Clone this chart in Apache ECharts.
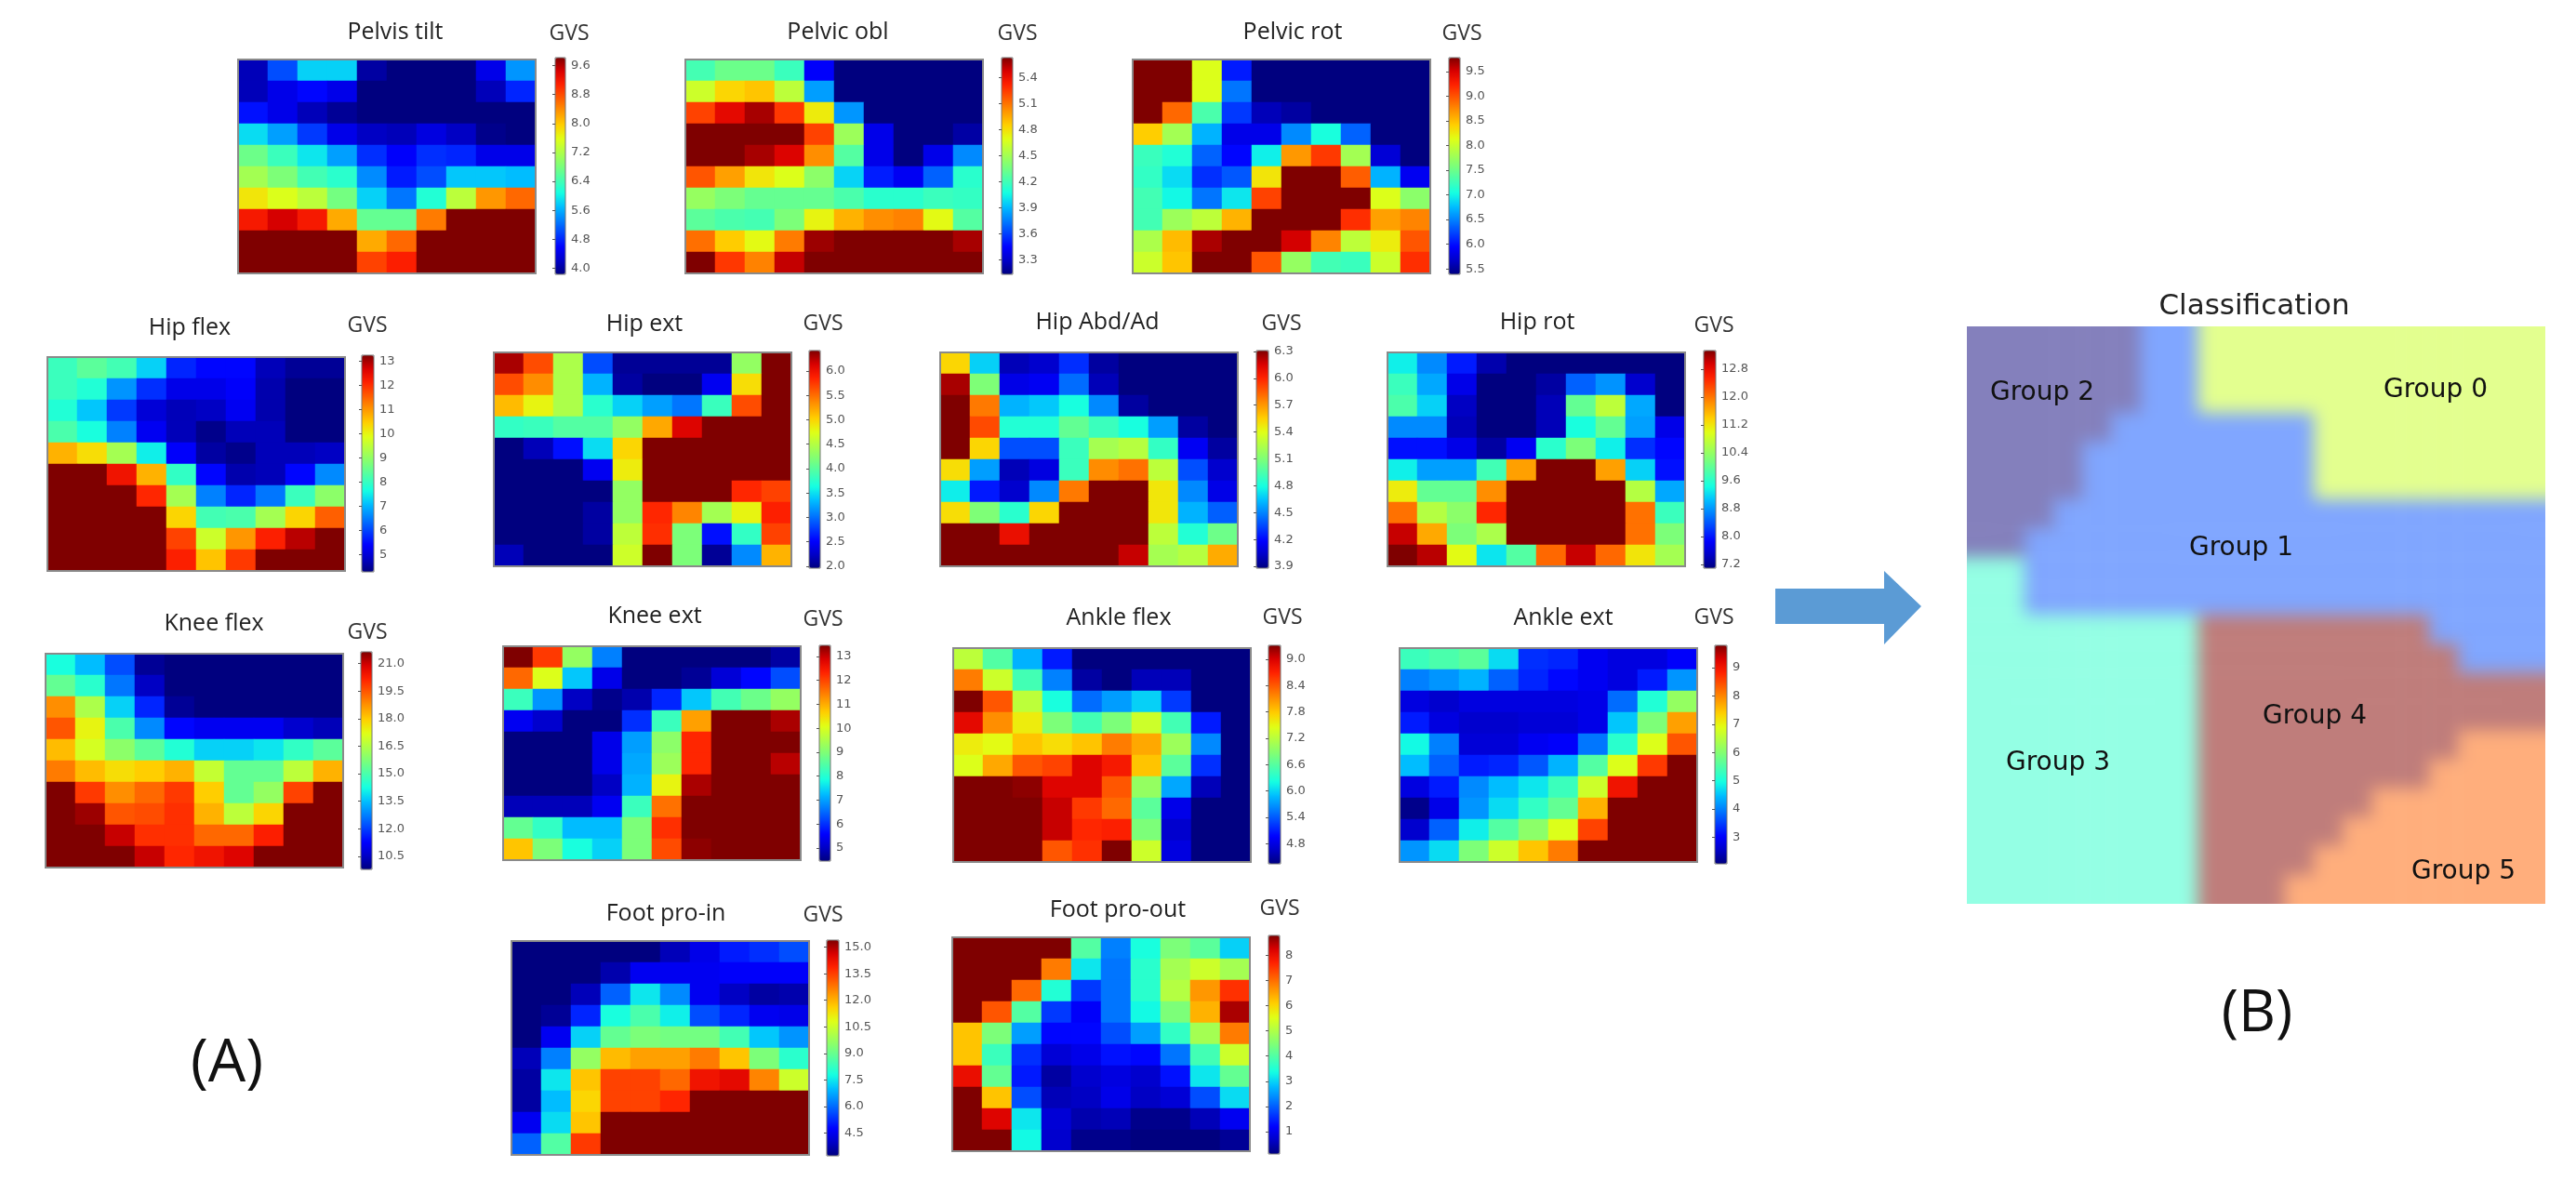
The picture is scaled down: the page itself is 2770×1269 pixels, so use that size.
<!DOCTYPE html>
<html>
<head>
<meta charset="utf-8">
<title>Gait variable scores and classification</title>
<script src="https://cdn.jsdelivr.net/npm/echarts@6/dist/echarts.min.js"></script>
<style>
html,body{margin:0;padding:0;background:#fff;width:2770px;height:1269px;overflow:hidden}
#classClip{position:absolute;left:2115px;top:351px;width:622px;height:621px;overflow:hidden}
#classMap{position:absolute;left:-62px;top:-62px;width:746px;height:745px;filter:blur(9px)}
#main{position:absolute;left:0;top:0;width:2770px;height:1269px}
</style>
</head>
<body>
<div id="classClip"><div id="classMap"></div></div>
<div id="main"></div>
<script>
// GVS values, top row first
var pelvisTilt = [
[4.13,5.03,5.81,5.81,4.01,3.83,3.83,3.83,4.43,5.45],
[4.13,4.43,4.61,4.43,3.83,3.83,3.83,3.83,4.13,4.79],
[4.67,4.43,4.13,3.95,3.83,3.83,3.83,3.83,3.83,3.83],
[5.87,5.51,4.91,4.43,4.19,4.13,4.37,4.19,3.89,3.83],
[6.71,6.35,5.93,5.51,4.85,4.55,4.85,4.79,4.43,4.43],
[7.12,6.83,6.41,6.23,5.39,4.73,5.03,5.75,5.75,5.69],
[7.78,7.54,7.30,6.77,5.81,5.27,6.17,7.30,8.32,8.62],
[9.16,9.46,9.16,8.20,6.65,6.65,8.50,9.82,9.82,9.82],
[9.82,9.82,9.82,9.82,8.20,8.62,9.82,9.82,9.82,9.82],
[9.82,9.82,9.82,9.82,8.86,9.10,9.82,9.82,9.82,9.82]];
var pelvicObl = [
[4.21,4.33,4.33,4.18,3.43,3.13,3.13,3.13,3.13,3.13],
[4.63,4.83,4.88,4.58,3.83,3.13,3.13,3.13,3.13,3.13],
[5.23,5.43,5.56,5.26,4.76,3.81,3.13,3.13,3.13,3.13],
[5.63,5.63,5.63,5.63,5.23,4.48,3.38,3.13,3.13,3.21],
[5.63,5.63,5.56,5.46,5.03,4.26,3.38,3.13,3.38,3.78],
[5.18,4.98,4.78,4.68,4.43,3.96,3.51,3.41,3.68,4.13],
[4.46,4.38,4.31,4.31,4.31,4.23,4.13,4.13,4.18,4.16],
[4.28,4.23,4.21,4.38,4.73,4.93,5.03,5.06,4.71,4.26],
[5.11,4.86,4.71,5.08,5.58,5.63,5.63,5.63,5.63,5.56],
[5.63,5.26,5.06,5.51,5.63,5.63,5.63,5.63,5.63,5.63]];
var pelvicRot = [
[9.78,9.78,8.11,6.05,5.39,5.39,5.39,5.39,5.39,5.39],
[9.78,9.78,8.11,6.44,5.39,5.39,5.39,5.39,5.39,5.39],
[9.78,8.90,7.32,6.18,5.61,5.52,5.39,5.39,5.39,5.39],
[8.42,7.80,6.71,5.83,5.83,6.53,7.06,6.36,5.39,5.39],
[7.23,7.10,6.36,5.96,6.97,8.68,9.12,7.80,5.74,5.39],
[7.19,6.88,6.14,6.31,8.29,9.78,9.78,8.95,6.71,5.87],
[7.28,7.01,6.44,6.93,9.08,9.78,9.78,9.78,8.11,7.67],
[7.28,7.76,7.94,8.55,9.78,9.78,9.78,9.17,8.64,8.77],
[7.85,8.51,9.65,9.78,9.78,9.52,8.77,7.94,8.24,8.99],
[8.02,8.46,9.78,9.78,8.99,7.72,7.28,7.23,8.02,9.17]];
var hipFlex = [
[8.05,8.41,8.14,7.24,5.72,5.45,5.45,4.73,4.46,4.46],
[8.05,7.78,6.70,5.81,5.18,5.18,5.36,4.64,4.28,4.28],
[7.78,7.15,5.90,5.00,4.73,4.82,5.27,4.64,4.28,4.28],
[8.23,7.69,6.53,5.27,4.73,4.37,4.73,4.73,4.28,4.28],
[10.75,10.30,9.22,7.51,5.36,4.55,4.37,4.73,4.73,4.82],
[13.26,13.26,12.36,10.75,7.96,5.45,4.64,4.73,5.45,6.61],
[13.26,13.26,13.26,12.09,9.22,6.53,5.72,6.44,8.05,8.95],
[13.26,13.26,13.26,13.26,10.39,8.14,8.23,9.22,10.39,11.55],
[13.26,13.26,13.26,13.26,11.82,9.67,11.02,12.18,12.90,13.26],
[13.26,13.26,13.26,13.26,12.18,10.57,11.91,13.26,13.26,13.26]];
var kneeFlex = [
[14.29,13.46,12.15,10.02,9.78,9.78,9.78,9.78,9.78,9.78],
[15.35,14.52,12.63,10.49,9.78,9.78,9.78,9.78,9.78,9.78],
[18.79,16.42,13.69,11.68,10.02,9.78,9.78,9.78,9.78,9.78],
[19.51,17.37,15.00,12.86,11.32,11.08,11.08,11.08,10.61,10.37],
[18.20,17.01,15.95,15.24,14.41,13.69,13.69,13.93,14.64,15.24],
[19.03,18.20,17.73,17.96,18.32,16.78,15.35,15.35,16.66,18.32],
[21.64,19.86,18.79,19.27,19.86,17.96,15.35,16.07,19.74,21.64],
[21.64,21.40,19.51,19.62,19.98,18.32,16.66,17.85,21.64,21.64],
[21.64,21.64,21.05,19.98,19.98,19.27,19.27,20.22,21.64,21.64],
[21.64,21.64,21.64,21.05,20.10,20.45,20.81,21.64,21.64,21.64]];
var hipExt = [
[6.29,5.66,4.46,2.85,2.05,2.05,2.05,2.05,4.32,6.42],
[5.66,5.35,4.46,3.30,2.09,1.96,1.96,2.45,4.95,6.42],
[5.13,4.81,4.46,3.74,3.43,3.21,3.03,3.83,5.66,6.42],
[3.79,3.83,3.97,3.97,4.32,5.22,6.11,6.42,6.42,6.42],
[1.96,2.18,2.58,3.48,4.99,6.42,6.42,6.42,6.42,6.42],
[1.96,1.96,1.96,2.45,4.86,6.42,6.42,6.42,6.42,6.42],
[1.96,1.96,1.96,1.96,4.32,6.42,6.42,6.42,5.84,5.71],
[1.96,1.96,1.96,2.09,4.32,5.84,5.39,4.41,4.81,5.88],
[1.96,1.96,1.96,2.09,4.55,5.80,4.19,2.58,3.79,5.71],
[2.18,1.96,1.96,1.96,4.64,6.42,4.19,2.05,3.12,5.17]];
var kneeExt = [
[13.46,12.11,9.23,6.71,4.46,4.46,4.46,4.46,4.46,4.73],
[11.66,10.04,7.34,5.36,4.46,4.46,4.64,5.18,5.63,6.26],
[8.24,6.89,5.00,4.55,4.82,5.90,7.34,8.33,8.78,9.23],
[5.45,5.09,4.46,4.46,5.99,8.24,11.12,13.46,13.46,13.19],
[4.46,4.46,4.46,5.36,6.98,9.14,12.29,13.46,13.46,13.46],
[4.46,4.46,4.46,5.36,7.07,9.32,12.29,13.46,13.46,13.10],
[4.46,4.46,4.46,5.00,7.16,10.22,13.19,13.46,13.46,13.46],
[4.91,4.91,4.91,5.45,8.24,11.57,13.46,13.46,13.46,13.46],
[8.69,8.15,7.25,7.25,8.96,12.20,13.46,13.46,13.46,13.46],
[10.76,8.96,7.88,7.43,8.96,11.93,13.37,13.46,13.46,13.46]];
var hipAbdAd = [
[5.53,4.68,4.00,4.05,4.29,3.95,3.88,3.88,3.88,3.88],
[6.24,5.10,4.12,4.15,4.44,4.00,3.88,3.88,3.88,3.88],
[6.31,5.78,4.61,4.66,4.80,4.51,3.95,3.88,3.88,3.88],
[6.31,5.90,4.83,4.83,5.02,4.90,4.80,4.56,3.95,3.88],
[6.31,5.53,4.37,4.37,4.90,5.22,5.27,4.88,4.15,3.95],
[5.51,4.56,4.00,4.10,4.90,5.73,5.80,5.29,4.37,4.05],
[4.75,4.24,4.05,4.51,5.78,6.31,6.31,5.48,4.51,4.12],
[5.51,5.10,4.85,5.53,6.31,6.31,6.31,5.48,4.61,4.41],
[6.31,6.31,6.09,6.31,6.31,6.31,6.31,5.29,4.83,5.05],
[6.31,6.31,6.31,6.31,6.31,6.31,6.19,5.22,5.27,5.65]];
var ankleFlex = [
[7.23,6.58,5.83,5.09,4.34,4.34,4.34,4.34,4.34,4.34],
[8.22,7.33,6.48,5.59,4.49,4.34,4.59,4.59,4.34,4.34],
[9.32,8.42,7.23,6.23,5.49,5.73,5.98,5.24,4.34,4.34],
[8.92,8.12,7.58,6.83,6.48,6.83,7.33,6.48,5.09,4.34],
[7.58,7.48,7.83,7.68,7.83,8.22,7.98,7.03,5.63,4.34],
[7.43,7.98,8.42,8.52,8.97,8.77,7.83,6.63,5.19,4.34],
[9.32,9.32,9.27,8.97,8.97,8.42,6.98,5.78,4.59,4.34],
[9.32,9.32,9.32,9.07,8.57,8.32,6.63,4.84,4.34,4.34],
[9.32,9.32,9.32,9.07,8.67,8.72,6.83,4.69,4.34,4.34],
[9.32,9.32,9.32,8.42,8.62,9.32,7.33,4.79,4.34,4.34]];
var hipRot = [
[9.34,8.71,8.03,7.34,7.09,7.09,7.09,7.09,7.09,7.09],
[9.71,8.90,7.71,7.09,7.09,7.28,8.46,8.77,7.53,7.09],
[9.84,9.15,7.46,7.09,7.09,7.40,10.02,10.71,8.90,7.09],
[8.71,8.71,7.40,7.09,7.09,7.40,9.46,10.02,8.84,7.71],
[7.96,7.96,7.71,7.28,7.78,9.59,10.21,9.34,8.15,7.90],
[9.34,8.84,8.84,9.77,11.71,13.33,13.33,11.71,9.15,7.96],
[11.15,10.02,10.02,11.83,13.33,13.33,13.33,13.33,10.65,8.90],
[12.02,10.65,10.33,12.52,13.33,13.33,13.33,13.33,12.02,9.71],
[13.02,11.65,10.21,10.58,13.33,13.33,13.33,13.33,12.02,10.21],
[13.33,13.08,11.02,9.27,9.90,12.08,13.02,12.08,11.21,10.52]];
var ankleExt = [
[5.31,5.46,5.62,4.69,3.37,3.30,2.91,2.76,2.76,2.99],
[3.99,4.15,4.38,3.76,3.30,3.07,2.91,2.76,3.22,4.15],
[2.76,2.60,2.76,2.76,2.76,2.76,2.83,3.84,5.07,6.16],
[3.22,2.76,2.60,2.60,2.68,2.68,2.83,4.53,5.93,7.78],
[4.92,3.99,2.68,2.68,2.91,2.99,3.92,5.15,6.85,8.40],
[4.46,3.76,3.22,3.30,3.68,4.38,5.54,6.85,8.63,9.79],
[2.76,3.22,4.07,4.46,4.77,5.31,6.70,9.02,9.79,9.79],
[2.14,2.83,4.15,4.69,5.23,5.69,7.63,9.79,9.79,9.79],
[2.60,3.76,4.84,5.54,6.08,6.85,8.55,9.79,9.79,9.79],
[4.15,4.69,5.93,6.70,7.47,8.09,9.79,9.79,9.79,9.79]];
var footProIn = [
[3.21,3.21,3.21,3.21,3.21,3.82,4.43,5.04,5.28,5.65],
[3.21,3.21,3.21,3.70,4.55,4.55,4.55,4.67,4.67,4.67],
[3.21,3.21,3.82,5.89,7.48,6.38,4.55,3.94,3.58,3.70],
[3.21,3.45,5.16,7.84,8.57,7.60,5.65,5.16,4.55,4.43],
[3.21,4.55,7.23,8.94,9.31,9.18,9.18,8.45,7.11,6.50],
[3.82,6.26,9.67,11.87,12.23,12.23,12.72,11.74,9.31,8.09],
[3.58,7.48,11.74,13.45,13.45,12.96,14.18,14.42,12.60,10.52],
[3.58,6.99,11.50,13.45,13.45,13.82,15.40,15.40,15.40,15.40],
[4.55,7.35,11.74,15.40,15.40,15.40,15.40,15.40,15.40,15.40],
[5.89,8.69,13.57,15.40,15.40,15.40,15.40,15.40,15.40,15.40]];
var footProOut = [
[8.79,8.79,8.79,8.79,4.02,2.28,3.41,4.45,4.10,2.97],
[8.79,8.79,8.79,6.88,3.15,2.19,3.58,4.88,5.32,4.88],
[8.79,8.79,7.05,3.50,1.67,2.19,3.58,5.06,6.62,7.57],
[8.79,7.23,4.02,1.67,1.15,2.19,3.32,4.45,6.36,8.53],
[6.19,4.45,2.54,1.24,1.24,1.85,2.54,3.67,4.88,6.88],
[6.19,3.76,1.59,0.80,0.98,1.33,1.24,2.19,3.84,5.32],
[8.01,4.19,1.41,0.37,0.72,0.89,0.72,1.33,3.15,4.19],
[8.79,6.19,1.85,0.54,0.63,0.98,0.63,0.80,1.85,3.06],
[8.79,8.18,3.15,0.80,0.46,0.54,0.20,0.20,0.54,1.06],
[8.79,8.79,3.32,0.72,0.20,0.20,0.11,0.11,0.11,0.28]];

// colorbar tick labels
var pelvisTiltTicks = [4.0,4.8,5.6,6.4,7.2,8.0,8.8,9.6];
var pelvicOblTicks = [3.3,3.6,3.9,4.2,4.5,4.8,5.1,5.4];
var pelvicRotTicks = [5.5,6.0,6.5,7.0,7.5,8.0,8.5,9.0,9.5];
var hipFlexTicks = [5,6,7,8,9,10,11,12,13];
var kneeFlexTicks = [10.5,12.0,13.5,15.0,16.5,18.0,19.5,21.0];
var hipExtTicks = [2.0,2.5,3.0,3.5,4.0,4.5,5.0,5.5,6.0];
var kneeExtTicks = [5,6,7,8,9,10,11,12,13];
var hipAbdAdTicks = [3.9,4.2,4.5,4.8,5.1,5.4,5.7,6.0,6.3];
var ankleFlexTicks = [4.8,5.4,6.0,6.6,7.2,7.8,8.4,9.0];
var hipRotTicks = [7.2,8.0,8.8,9.6,10.4,11.2,12.0,12.8];
var ankleExtTicks = [3,4,5,6,7,8,9];
var footProInTicks = [4.5,6.0,7.5,9.0,10.5,12.0,13.5,15.0];
var footProOutTicks = [1,2,3,4,5,6,7,8];

// cluster number of the classification map, read on a 20x20 raster
var groupNames = ['Group 0','Group 1','Group 2','Group 3','Group 4','Group 5'];
var classification = [
[2,2,2,2,2,2,1,1,0,0,0,0,0,0,0,0,0,0,0,0],
[2,2,2,2,2,2,1,1,0,0,0,0,0,0,0,0,0,0,0,0],
[2,2,2,2,2,2,1,1,0,0,0,0,0,0,0,0,0,0,0,0],
[2,2,2,2,2,1,1,1,1,1,1,1,0,0,0,0,0,0,0,0],
[2,2,2,2,1,1,1,1,1,1,1,1,0,0,0,0,0,0,0,0],
[2,2,2,2,1,1,1,1,1,1,1,1,0,0,0,0,0,0,0,0],
[2,2,2,1,1,1,1,1,1,1,1,1,1,1,1,1,1,1,1,1],
[2,2,1,1,1,1,1,1,1,1,1,1,1,1,1,1,1,1,1,1],
[3,3,1,1,1,1,1,1,1,1,1,1,1,1,1,1,1,1,1,1],
[3,3,1,1,1,1,1,1,1,1,1,1,1,1,1,1,1,1,1,1],
[3,3,3,3,3,3,3,3,4,4,4,4,4,4,4,4,1,1,1,1],
[3,3,3,3,3,3,3,3,4,4,4,4,4,4,4,4,4,1,1,1],
[3,3,3,3,3,3,3,3,4,4,4,4,4,4,4,4,4,4,4,4],
[3,3,3,3,3,3,3,3,4,4,4,4,4,4,4,4,4,4,4,4],
[3,3,3,3,3,3,3,3,4,4,4,4,4,4,4,4,4,5,5,5],
[3,3,3,3,3,3,3,3,4,4,4,4,4,4,4,4,5,5,5,5],
[3,3,3,3,3,3,3,3,4,4,4,4,4,4,5,5,5,5,5,5],
[3,3,3,3,3,3,3,3,4,4,4,4,4,5,5,5,5,5,5,5],
[3,3,3,3,3,3,3,3,4,4,4,4,5,5,5,5,5,5,5,5],
[3,3,3,3,3,3,3,3,4,4,4,5,5,5,5,5,5,5,5,5]];

var jet = ['#00007f','#0000c7','#0000ff','#0040ff','#0080ff','#00bfff','#15ffe2','#48ffae','#7cff79',
           '#aeff48','#e0ff16','#ffd000','#ff9700','#ff5c00','#ff2100','#d90000','#7f0000'];
var groupColors = ['#e3ff8f','#80a6ff','#8480bc','#94ffe4','#bf7d7b','#ffae7c'];

// name, values, ticks, colour range, map box [x0,y0,x1,y1] (whole pixels per cell so
// no seams show), colorbar [x0,y0,x1,y1], title and GVS centres
var panels = [
 {name:'Pelvis tilt', v:pelvisTilt, t:pelvisTiltTicks, min:3.83, max:9.82, box:[256,64,576,294], bar:[597,62,608,295], title:[425,35], gvs:[612,36], dec:1},
 {name:'Pelvic obl', v:pelvicObl, t:pelvicOblTicks, min:3.13, max:5.63, box:[737,64,1057,294], bar:[1077,62,1089,295], title:[901,35], gvs:[1094,36], dec:1},
 {name:'Pelvic rot', v:pelvicRot, t:pelvicRotTicks, min:5.39, max:9.78, box:[1218,64,1538,294], bar:[1558,62,1570,295], title:[1390,35], gvs:[1572,36], dec:1},
 {name:'Hip flex', v:hipFlex, t:hipFlexTicks, min:4.28, max:13.26, box:[51,384,371,614], bar:[389,382,402,615], title:[204,353], gvs:[395,350], dec:0},
 {name:'Knee flex', v:kneeFlex, t:kneeFlexTicks, min:9.78, max:21.64, box:[49,703,369,933], bar:[388,701,400,935], title:[230,671], gvs:[395,680], dec:1},
 {name:'Hip ext', v:hipExt, t:hipExtTicks, min:1.96, max:6.42, box:[531,379,851,609], bar:[870,377,882,611], title:[693,349], gvs:[885,348], dec:1},
 {name:'Knee ext', v:kneeExt, t:kneeExtTicks, min:4.46, max:13.46, box:[541,695,861,925], bar:[881,694,893,926], title:[704,663], gvs:[885,666], dec:0},
 {name:'Hip Abd/Ad', v:hipAbdAd, t:hipAbdAdTicks, min:3.88, max:6.31, box:[1011,379,1331,609], bar:[1351,377,1364,611], title:[1180,347], gvs:[1378,348], dec:1},
 {name:'Ankle flex', v:ankleFlex, t:ankleFlexTicks, min:4.34, max:9.32, box:[1025,697,1345,927], bar:[1364,694,1377,929], title:[1203,665], gvs:[1379,664], dec:1},
 {name:'Hip rot', v:hipRot, t:hipRotTicks, min:7.09, max:13.33, box:[1492,379,1812,609], bar:[1832,377,1845,611], title:[1653,347], gvs:[1843,350], dec:1},
 {name:'Ankle ext', v:ankleExt, t:ankleExtTicks, min:2.06, max:9.79, box:[1505,697,1825,927], bar:[1844,694,1857,929], title:[1681,665], gvs:[1843,664], dec:0},
 {name:'Foot pro-in', v:footProIn, t:footProInTicks, min:3.21, max:15.40, box:[550,1012,870,1242], bar:[889,1011,902,1243], title:[716,983], gvs:[885,984], dec:1},
 {name:'Foot pro-out', v:footProOut, t:footProOutTicks, min:0.11, max:8.79, box:[1024,1008,1344,1238], bar:[1364,1006,1376,1241], title:[1202,979], gvs:[1376,977], dec:0}
];

var cells = ['0','1','2','3','4','5','6','7','8','9'];
var titleFont = '"Open Sans", sans-serif';
var chart = echarts.init(document.getElementById('main'));

var grids = [], xAxes = [], yAxes = [], series = [], visualMaps = [], titles = [];

panels.forEach(function(p, i){
    var data = [];
    p.v.forEach(function(row, r){
        row.forEach(function(val, c){ data.push([c, r, val]); });
    });
    grids.push({left:p.box[0], top:p.box[1], width:p.box[2]-p.box[0], height:p.box[3]-p.box[1],
        show:true, borderColor:'#8a8a8a', borderWidth:2, z:6});
    xAxes.push({type:'category', data:cells, gridIndex:i, show:false});
    yAxes.push({type:'category', data:cells, gridIndex:i, show:false, inverse:true});
    series.push({type:'heatmap', name:p.name, xAxisIndex:i, yAxisIndex:i, data:data, z:2, silent:true, progressive:0});
    visualMaps.push({type:'continuous', seriesIndex:i, dimension:2, min:p.min, max:p.max, padding:0,
        left:p.bar[0], top:p.bar[1], itemWidth:p.bar[2]-p.bar[0], itemHeight:p.bar[3]-p.bar[1],
        calculable:false, hoverLink:false, inRange:{color:jet}});
    titles.push({text:p.name, left:p.title[0], top:p.title[1], padding:0, textAlign:'center', textVerticalAlign:'middle',
        textStyle:{fontFamily:titleFont, fontWeight:'normal', fontSize:25, color:'#222'}});
    titles.push({text:'GVS', left:p.gvs[0], top:p.gvs[1], padding:0, textAlign:'center', textVerticalAlign:'middle',
        textStyle:{fontFamily:titleFont, fontWeight:'normal', fontSize:23, color:'#333'}});
});

// colorbars: the visualMap strip with a value axis laid over it for the ticks
panels.forEach(function(p, i){
    var g = panels.length + i;
    grids.push({left:p.bar[0], top:p.bar[1], width:p.bar[2]-p.bar[0], height:p.bar[3]-p.bar[1],
        show:true, borderColor:'#777', borderWidth:1, z:6});
    xAxes.push({type:'value', gridIndex:g, show:false});
    yAxes.push({type:'value', gridIndex:g, position:'right', min:p.min, max:p.max, z:7,
        axisLine:{show:false}, splitLine:{show:false},
        axisTick:{show:true, inside:true, length:3, lineStyle:{color:'#555'}, customValues:p.t},
        axisLabel:{show:true, margin:6, color:'#555', fontFamily:'"DejaVu Sans", sans-serif', fontSize:13,
            customValues:p.t, formatter:(function(dec){ return function(v){ return Number(v).toFixed(dec); }; })(p.dec)}});
});

titles.push({text:'Classification', left:2424, top:330, padding:0, textAlign:'center', textVerticalAlign:'middle',
    textStyle:{fontFamily:'"DejaVu Sans", sans-serif', fontWeight:'normal', fontSize:31, color:'#222'}});

function groupLabel(id, x, y){
    return {type:'text', x:x, y:y, z:20, style:{text:groupNames[id], fill:'#111', align:'center', verticalAlign:'middle',
        font:'28px "DejaVu Sans", sans-serif'}};
}

chart.setOption({
    animation:false,
    title:titles,
    grid:grids,
    xAxis:xAxes,
    yAxis:yAxes,
    visualMap:visualMaps,
    series:series,
    graphic:[
        // arrow between (A) and (B)
        {type:'polygon', shape:{points:[[1909,633],[2026,633],[2026,614],[2066,652],[2026,693],[2026,671],[1909,671]]},
            style:{fill:'#5b9bd5'}},
        groupLabel(2, 2196, 423),
        groupLabel(0, 2619, 420),
        groupLabel(1, 2410, 590),
        groupLabel(4, 2489, 771),
        groupLabel(3, 2213, 821),
        groupLabel(5, 2649, 938),
        {type:'text', x:244, y:1145, style:{text:'(A)', fill:'#111', align:'center', verticalAlign:'middle', font:'64px "Open Sans", sans-serif'}},
        {type:'text', x:2427, y:1091, style:{text:'(B)', fill:'#111', align:'center', verticalAlign:'middle', font:'62px "Open Sans", sans-serif'}}
    ]
});

// classification map: edge cells repeated two steps outward so the CSS blur
// does not fade into the page, the clip box then shows the 20x20 area only
var classChart = echarts.init(document.getElementById('classMap'));
var padded = [], axisCells = [];
for (var a = -2; a <= 21; a++) { axisCells.push(String(a)); }
for (var r = -2; r <= 21; r++) {
    for (var c = -2; c <= 21; c++) {
        var rr = Math.min(19, Math.max(0, r)), cc = Math.min(19, Math.max(0, c));
        padded.push([c + 2, r + 2, classification[rr][cc]]);
    }
}
classChart.setOption({
    animation:false,
    grid:{left:0, right:0, top:0, bottom:0},
    xAxis:{type:'category', data:axisCells, show:false},
    yAxis:{type:'category', data:axisCells, show:false, inverse:true},
    visualMap:{type:'piecewise', show:false, dimension:2,
        pieces:groupColors.map(function(col, i){ return {value:i, color:col}; })},
    series:[{type:'heatmap', data:padded, silent:true, progressive:0}]
});
</script>
</body>
</html>
